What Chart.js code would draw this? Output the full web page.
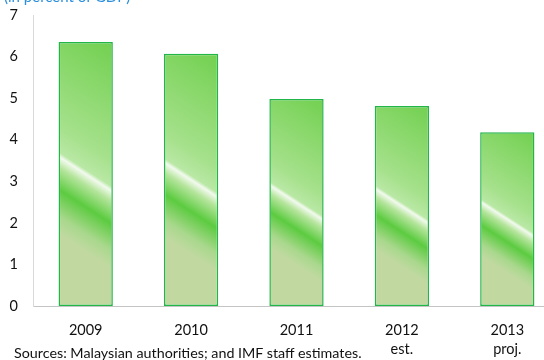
<!DOCTYPE html>
<html>
<head>
<meta charset="utf-8">
<script src="https://cdn.jsdelivr.net/npm/chart.js@4"></script>
<style>
  html, body { margin: 0; padding: 0; background: #fff; overflow: hidden; }
  #wrap { position: relative; width: 560px; height: 360px; }
  #title { position: absolute; left: 4px; top: -13px; font: 15px Lato, sans-serif; color: #2b8fdc; white-space: nowrap; }
  #source { position: absolute; left: 14px; top: 344px; font: 14.3px Lato, sans-serif; color: #111; white-space: nowrap; }
</style>
</head>
<body>
<div id="wrap">
  <canvas id="chart" width="560" height="360"></canvas>
  <div id="title">(in percent of GDP)</div>
  <div id="source">Sources: Malaysian authorities; and IMF staff estimates.</div>
</div>
<script>
const categories = ['2009', '2010', '2011', ['2012', 'est.'], ['2013', 'proj.']];
const deficit = [6.35, 6.07, 4.98, 4.81, 4.18];
const yTicks = [0, 1, 2, 3, 4, 5, 6, 7];

const BAR_PCT = 0.515;

// diagonal glossy fill, worked out per bar from the scales
function barFill(ctx) {
  const chart = ctx.chart;
  if (!chart.chartArea || ctx.type !== 'data') return '#8fd672';
  const xs = chart.scales.x, ys = chart.scales.y;
  const cx = xs.getPixelForValue(ctx.dataIndex);
  const w = xs.width / categories.length * BAR_PCT;
  const xr = cx + w / 2;
  const top = ys.getPixelForValue(ctx.raw);
  const h = ys.getPixelForValue(0) - top;
  const s = 0.65;
  const n = Math.sqrt(1 + s * s);
  const t = (w * s + h) / n;
  const g = chart.ctx.createLinearGradient(xr, top, xr - s * t / n, top + t / n);
  g.addColorStop(0, '#72d050');
  g.addColorStop(0.40, '#a6e18c');
  g.addColorStop(0.485, '#b9e8a5');
  g.addColorStop(0.50, '#f2faee');
  g.addColorStop(0.535, '#b5e59c');
  g.addColorStop(0.61, '#5ccb40');
  g.addColorStop(0.70, '#a9d88d');
  g.addColorStop(0.76, '#c1d9a1');
  g.addColorStop(1, '#c1d9a1');
  return g;
}

const font = { family: 'Lato, sans-serif', size: 14.5 };

new Chart(document.getElementById('chart'), {
  type: 'bar',
  data: {
    labels: categories,
    datasets: [{
      data: deficit,
      backgroundColor: barFill,
      borderColor: '#22b548',
      borderWidth: 1.5,
      borderSkipped: false,
      categoryPercentage: 1,
      barPercentage: BAR_PCT
    }]
  },
  options: {
    responsive: false,
    animation: false,
    layout: { padding: { top: 15, left: 0, right: 0, bottom: 0 } },
    plugins: { legend: { display: false }, tooltip: { enabled: false } },
    scales: {
      x: {
        grid: { display: false, drawTicks: false },
        border: { color: '#c4c4c4', width: 1 },
        ticks: { color: '#111', font: { ...font, lineHeight: 1.3 }, padding: 15, maxRotation: 0 },
        afterFit: s => { s.height = 54; s.paddingLeft = 0; s.paddingRight = 0; }
      },
      y: {
        min: 0,
        max: 7,
        afterBuildTicks: s => { s.ticks = yTicks.map(v => ({ value: v })); },
        grid: { display: false, drawTicks: false },
        border: { color: '#d9d9d9', width: 1 },
        ticks: { color: '#111', font: font, padding: 15 },
        afterFit: s => { s.width = 33; s.paddingTop = 0; s.paddingBottom = 0; }
      }
    }
  }
});
</script>
</body>
</html>
